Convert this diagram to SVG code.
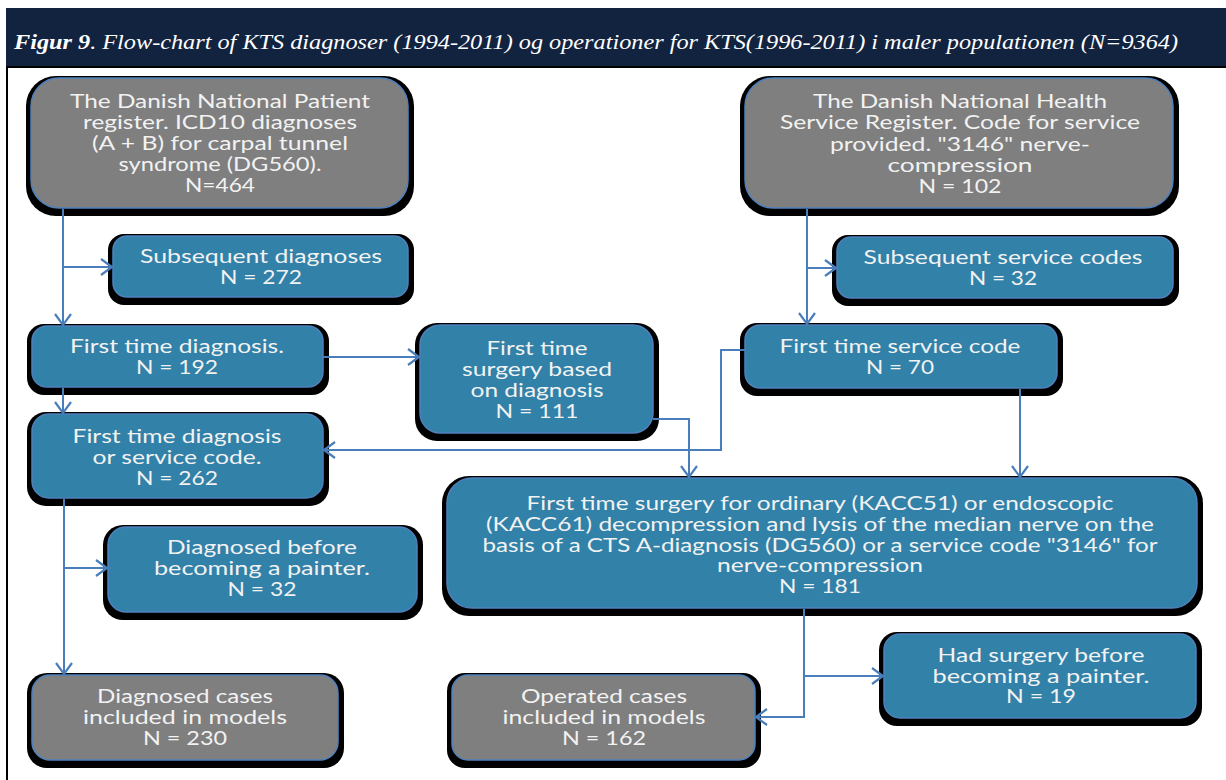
<svg xmlns="http://www.w3.org/2000/svg" width="1226" height="780" viewBox="0 0 1226 780">
<style>
.bg{fill:#ffffff}
.hdr{fill:#12233f}
.frame{stroke:#000;stroke-width:2;fill:none}
.sh{fill:#000}
.grey{fill:#7f7f7f;stroke:#4f81bd;stroke-width:1.5}
.blue{fill:#3181a8;stroke:#4f81bd;stroke-width:1.5}
.t{font-family:Lato,"Open Sans","Liberation Sans",sans-serif;font-size:18.5px;fill:#f2f2f2;text-anchor:middle}
.title{font-family:"Liberation Serif","Times New Roman",serif;font-style:italic;font-size:22px;fill:#ffffff}
.c{stroke:#4a7ebb;stroke-width:2;fill:none}
</style>
<defs>
<marker id="ar" markerUnits="userSpaceOnUse" markerWidth="16" markerHeight="20" refX="12" refY="9" orient="auto">
<path d="M1,1 L12,9 L1,17" fill="none" stroke="#4a7ebb" stroke-width="2.2"/>
</marker>
</defs>
<rect class="bg" x="0" y="0" width="1226" height="780"/>
<rect class="hdr" x="6" y="8" width="1220" height="58"/>
<text class="title" x="14" y="49" textLength="1164" lengthAdjust="spacingAndGlyphs"><tspan font-weight="bold">Figur 9</tspan>. Flow-chart of KTS diagnoser (1994-2011) og operationer for KTS(1996-2011) i maler populationen (N=9364)</text>
<path class="frame" d="M7,780 V67 H1226"/>

<g id="nodeA">
<rect class="sh" x="26" y="76" width="388" height="140" rx="30"/>
<rect class="grey" x="31" y="78" width="377" height="130" rx="28"/>
<text class="t" x="220" y="108" textLength="300" lengthAdjust="spacingAndGlyphs">The Danish National Patient</text>
<text class="t" x="220" y="129" textLength="274" lengthAdjust="spacingAndGlyphs">register. ICD10 diagnoses</text>
<text class="t" x="220" y="150" textLength="256" lengthAdjust="spacingAndGlyphs">(A + B) for carpal tunnel</text>
<text class="t" x="220" y="171" textLength="203" lengthAdjust="spacingAndGlyphs">syndrome (DG560).</text>
<text class="t" x="220" y="192" textLength="70" lengthAdjust="spacingAndGlyphs">N=464</text>
</g>

<g id="nodeB">
<rect class="sh" x="740" y="76" width="439" height="140" rx="30"/>
<rect class="grey" x="745" y="78" width="428" height="130" rx="28"/>
<text class="t" x="960" y="108" textLength="294" lengthAdjust="spacingAndGlyphs">The Danish National Health</text>
<text class="t" x="960" y="129" textLength="360" lengthAdjust="spacingAndGlyphs">Service Register. Code for service</text>
<text class="t" x="960" y="151" textLength="260" lengthAdjust="spacingAndGlyphs">provided. "3146" nerve-</text>
<text class="t" x="960" y="172" textLength="145" lengthAdjust="spacingAndGlyphs">compression</text>
<text class="t" x="960" y="193" textLength="83" lengthAdjust="spacingAndGlyphs">N = 102</text>
</g>

<g id="nodeC">
<rect class="sh" x="108" y="234" width="306" height="71" rx="16"/>
<rect class="blue" x="113" y="236" width="295" height="61" rx="14"/>
<text class="t" x="261" y="263" textLength="242" lengthAdjust="spacingAndGlyphs">Subsequent diagnoses</text>
<text class="t" x="261" y="284" textLength="82" lengthAdjust="spacingAndGlyphs">N = 272</text>
</g>

<g id="nodeD">
<rect class="sh" x="832" y="235" width="347" height="71" rx="16"/>
<rect class="blue" x="837" y="237" width="336" height="61" rx="14"/>
<text class="t" x="1003" y="264" textLength="279" lengthAdjust="spacingAndGlyphs">Subsequent service codes</text>
<text class="t" x="1003" y="285" textLength="68" lengthAdjust="spacingAndGlyphs">N = 32</text>
</g>

<g id="nodeE">
<rect class="sh" x="27" y="324" width="302" height="71" rx="17"/>
<rect class="blue" x="32" y="326" width="291" height="61" rx="15"/>
<text class="t" x="177" y="353" textLength="214" lengthAdjust="spacingAndGlyphs">First time diagnosis.</text>
<text class="t" x="177" y="374" textLength="82" lengthAdjust="spacingAndGlyphs">N = 192</text>
</g>

<g id="nodeF">
<rect class="sh" x="27" y="412" width="302" height="94" rx="19"/>
<rect class="blue" x="32" y="414" width="291" height="84" rx="17"/>
<text class="t" x="177" y="443" textLength="209" lengthAdjust="spacingAndGlyphs">First time diagnosis</text>
<text class="t" x="177" y="464" textLength="169" lengthAdjust="spacingAndGlyphs">or service code.</text>
<text class="t" x="177" y="485" textLength="82" lengthAdjust="spacingAndGlyphs">N = 262</text>
</g>

<g id="nodeG">
<rect class="sh" x="415" y="323" width="244" height="118" rx="22"/>
<rect class="blue" x="420" y="325" width="233" height="108" rx="20"/>
<text class="t" x="537" y="355" textLength="101" lengthAdjust="spacingAndGlyphs">First time</text>
<text class="t" x="537" y="376" textLength="150" lengthAdjust="spacingAndGlyphs">surgery based</text>
<text class="t" x="537" y="397" textLength="133" lengthAdjust="spacingAndGlyphs">on diagnosis</text>
<text class="t" x="537" y="418" textLength="83" lengthAdjust="spacingAndGlyphs">N = 111</text>
</g>

<g id="nodeH">
<rect class="sh" x="740" y="323" width="323" height="73" rx="17"/>
<rect class="blue" x="745" y="325" width="312" height="63" rx="15"/>
<text class="t" x="900" y="353" textLength="241" lengthAdjust="spacingAndGlyphs">First time service code</text>
<text class="t" x="900" y="374" textLength="68" lengthAdjust="spacingAndGlyphs">N = 70</text>
</g>

<g id="nodeI">
<rect class="sh" x="442" y="476" width="761" height="140" rx="27"/>
<rect class="blue" x="447" y="478" width="750" height="130" rx="25"/>
<text class="t" x="820" y="510" textLength="587" lengthAdjust="spacingAndGlyphs">First time surgery for ordinary (KACC51) or endoscopic</text>
<text class="t" x="820" y="531" textLength="668" lengthAdjust="spacingAndGlyphs">(KACC61) decompression and lysis of the median nerve on the</text>
<text class="t" x="820" y="552" textLength="675" lengthAdjust="spacingAndGlyphs">basis of a CTS A-diagnosis (DG560) or a service code "3146" for</text>
<text class="t" x="820" y="572" textLength="206" lengthAdjust="spacingAndGlyphs">nerve-compression</text>
<text class="t" x="820" y="593" textLength="82" lengthAdjust="spacingAndGlyphs">N = 181</text>
</g>

<g id="nodeJ">
<rect class="sh" x="103" y="525" width="320" height="95" rx="20"/>
<rect class="blue" x="108" y="527" width="309" height="85" rx="18"/>
<text class="t" x="262" y="554" textLength="190" lengthAdjust="spacingAndGlyphs">Diagnosed before</text>
<text class="t" x="262" y="575" textLength="216" lengthAdjust="spacingAndGlyphs">becoming a painter.</text>
<text class="t" x="262" y="596" textLength="69" lengthAdjust="spacingAndGlyphs">N = 32</text>
</g>

<g id="nodeK">
<rect class="sh" x="27" y="673" width="317" height="95" rx="20"/>
<rect class="grey" x="32" y="675" width="306" height="85" rx="18"/>
<text class="t" x="185" y="703" textLength="176" lengthAdjust="spacingAndGlyphs">Diagnosed cases</text>
<text class="t" x="185" y="724" textLength="204" lengthAdjust="spacingAndGlyphs">included in models</text>
<text class="t" x="185" y="745" textLength="84" lengthAdjust="spacingAndGlyphs">N = 230</text>
</g>

<g id="nodeL">
<rect class="sh" x="447" y="673" width="314" height="95" rx="18"/>
<rect class="grey" x="452" y="675" width="303" height="85" rx="16"/>
<text class="t" x="604" y="703" textLength="166" lengthAdjust="spacingAndGlyphs">Operated cases</text>
<text class="t" x="604" y="724" textLength="203" lengthAdjust="spacingAndGlyphs">included in models</text>
<text class="t" x="604" y="745" textLength="84" lengthAdjust="spacingAndGlyphs">N = 162</text>
</g>

<g id="nodeM">
<rect class="sh" x="879" y="632" width="323" height="94" rx="18"/>
<rect class="blue" x="884" y="634" width="312" height="84" rx="16"/>
<text class="t" x="1041" y="662" textLength="207" lengthAdjust="spacingAndGlyphs">Had surgery before</text>
<text class="t" x="1041" y="683" textLength="217" lengthAdjust="spacingAndGlyphs">becoming a painter.</text>
<text class="t" x="1041" y="703" textLength="70" lengthAdjust="spacingAndGlyphs">N = 19</text>
</g>

<g id="connectors">
<path class="c" d="M63,209 V325" marker-end="url(#ar)"/>
<path class="c" d="M63,267 H112" marker-end="url(#ar)"/>
<path class="c" d="M63,388 V413" marker-end="url(#ar)"/>
<path class="c" d="M323,357 H419" marker-end="url(#ar)"/>
<path class="c" d="M807,209 V324" marker-end="url(#ar)"/>
<path class="c" d="M807,268 H836" marker-end="url(#ar)"/>
<path class="c" d="M745,350 H721 V450 H324" marker-end="url(#ar)"/>
<path class="c" d="M653,419 H689 V477" marker-end="url(#ar)"/>
<path class="c" d="M1020,389 V477" marker-end="url(#ar)"/>
<path class="c" d="M804,609 V717 H756" marker-end="url(#ar)"/>
<path class="c" d="M804,676 H883" marker-end="url(#ar)"/>
<path class="c" d="M64,499 V674" marker-end="url(#ar)"/>
<path class="c" d="M64,568 H107" marker-end="url(#ar)"/>
</g>
</svg>
